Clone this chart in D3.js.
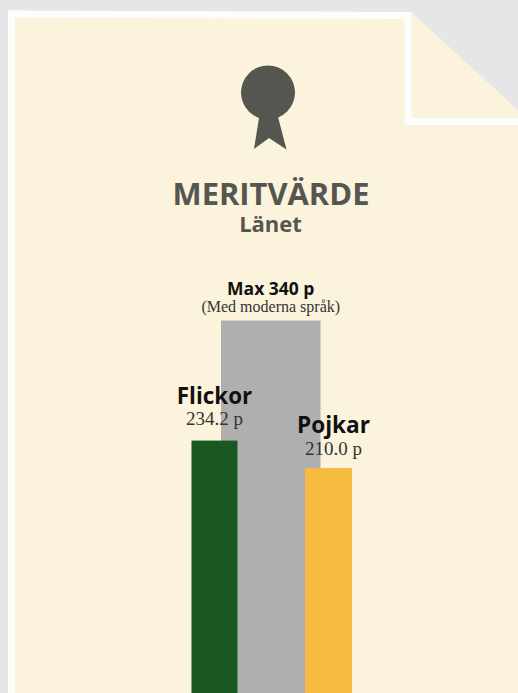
<!DOCTYPE html>
<html><head><meta charset="utf-8">
<script src="https://cdn.jsdelivr.net/npm/d3@7/dist/d3.min.js"></script>
<style>html,body{margin:0;padding:0;background:#e6e6e6;overflow:hidden}svg{display:block}</style>
</head><body><svg id="c" width="518" height="693"></svg>
<script>
const title = "MERITVÄRDE";
const subtitle = "Länet";
const categories = ["Flickor", "Max", "Pojkar"];
const values = [234.2, 340, 210.0];
const valueLabels = ["234.2 p", "(Med moderna språk)", "210.0 p"];
const nameLabels = ["Flickor", "Max 340 p", "Pojkar"];
const colors = ["#195723", "#afafaf", "#f6ba3e"];
const widths = [46, 99.5, 47];
const maxValue = 340;

const svg = d3.select("#c");
const paper = "#fbf3dc", ink = "#555650", edge = "#fdfdfb";
svg.append("path").attr("d","M8 10.5 L411 12 L518 110 V693 H8 Z").attr("fill",paper);
svg.append("path").attr("d","M11.5 14 L408 15.5 V121.5 H518").attr("fill","none").attr("stroke",edge).attr("stroke-width",7);
svg.append("path").attr("d","M11.5 10.5 V693").attr("fill","none").attr("stroke",edge).attr("stroke-width",7);

const badge = svg.append("g").attr("fill",ink);
badge.append("circle").attr("cx",268).attr("cy",92.5).attr("r",27);
badge.append("path").attr("d","M259.5 115 L254 149 L269 138 L286.5 149.5 L277.5 115 Z");

const text = (x,y,s,font,size,weight,fill) => svg.append("text").attr("x",x).attr("y",y).attr("text-anchor","middle")
  .attr("font-family",font).attr("font-size",size).attr("font-weight",weight).attr("fill",fill).text(s);
const sans = "'Open Sans'", serif = "'Liberation Serif'";
text(271,205,title,sans,30.9,700,ink);
text(270.5,232,subtitle,sans,22,700,ink);

const x = d3.scaleOrdinal().domain(categories).range([214.5,270.75,328.5]);
const y = d3.scaleLinear().domain([0,maxValue]).range([706.4,320.5]);
const order = [1,0,2];
svg.append("g").selectAll("rect").data(order).join("rect")
  .attr("x",i=>x(categories[i])-widths[i]/2)
  .attr("y",i=>y(values[i]))
  .attr("width",i=>widths[i])
  .attr("height",i=>y(0)-y(values[i]))
  .attr("fill",i=>colors[i]);

text(x("Max"),295,nameLabels[1],sans,17.5,700,"#111");
text(x("Max"),312,valueLabels[1],serif,16,400,"#333");
text(x("Flickor"),404,nameLabels[0],sans,22.4,700,"#111");
text(x("Flickor"),425,valueLabels[0],serif,19,400,"#333");
text(333.5,433,nameLabels[2],sans,22.6,700,"#111");
text(333.5,454.5,valueLabels[2],serif,19,400,"#333");
</script></body></html>
